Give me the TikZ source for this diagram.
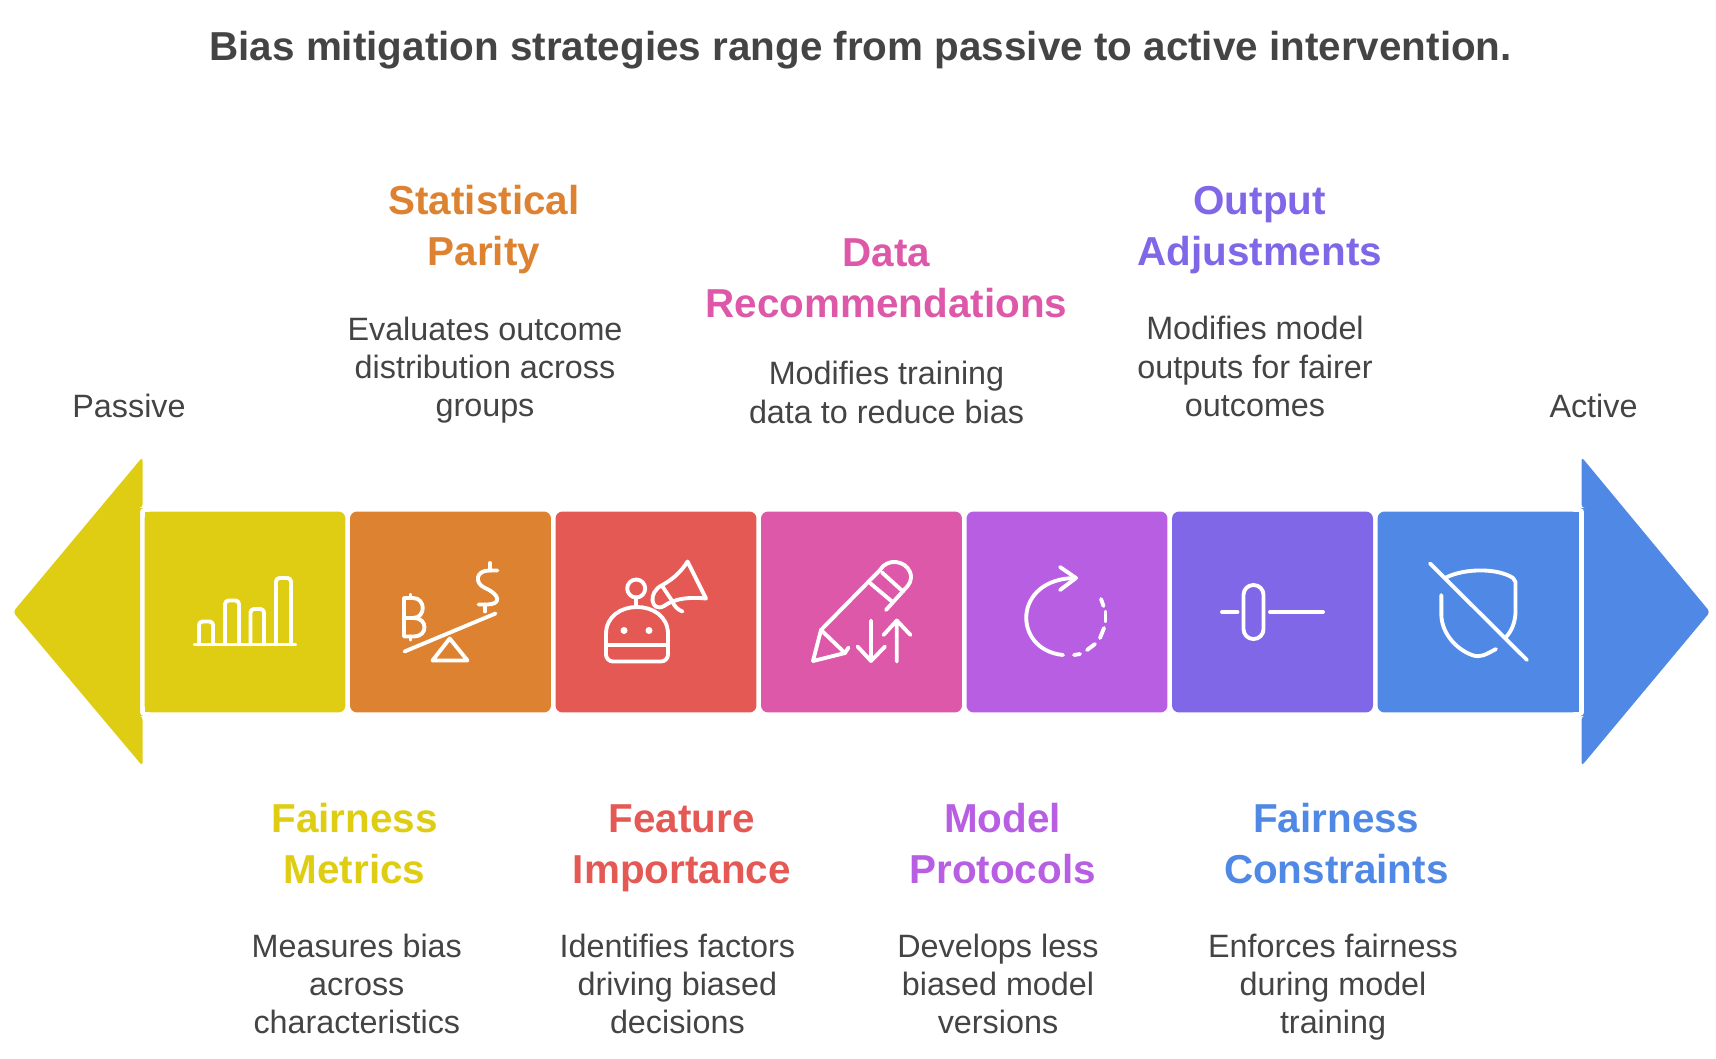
\documentclass[tikz,border=0pt]{standalone}
\usepackage{fontspec}
\setmainfont{Liberation Sans}
\definecolor{cyellow}{HTML}{DFCD14}
\definecolor{corange}{HTML}{DD8230}
\definecolor{cred}{HTML}{E55955}
\definecolor{cpink}{HTML}{DD58A8}
\definecolor{cpurple}{HTML}{B85EE3}
\definecolor{cviolet}{HTML}{8067E7}
\definecolor{cblue}{HTML}{4F89E5}
\definecolor{darktext}{HTML}{444444}
\tikzset{
  stepbox/.style={minimum size=4.02cm, inner sep=0pt, outer sep=0pt, rounded corners=4pt},
  headtext/.style={font=\fontsize{23}{29.1}\selectfont\bfseries, align=center, inner sep=0pt},
  bodytext/.style={font=\fontsize{18.4}{21.8}\selectfont, text=darktext, align=center, inner sep=0pt},
  icon/.style={draw=white, line width=2.2pt, line cap=round, line join=round}
}
\begin{document}
\begin{tikzpicture}[x=0.02cm, y=-0.02cm]
            \useasboundingbox (0,0) rectangle (1716,1058);

            % Title
            \node[font=\fontsize{23}{29}\selectfont\bfseries, text=darktext, inner sep=0pt] (title) at (860.7,50.5) {Bias mitigation strategies range from passive to active intervention.};

            % Arrow heads
            \fill[cyellow, rounded corners=2pt] (142.5,457) -- (13,612) -- (142.5,766) -- (142.5,716) -- (140,716) -- (140,508) -- (142.5,508) -- cycle;
            \fill[cblue, rounded corners=2pt] (1581.5,457) -- (1710,612) -- (1581.5,766) -- (1581.5,716) -- (1584,716) -- (1584,508) -- (1581.5,508) -- cycle;

            % Boxes
            \node[stepbox, fill=cyellow] (box1) at (245,612) {};
            \node[stepbox, fill=corange] (box2) at (450.5,612) {};
            \node[stepbox, fill=cred] (box3) at (656,612) {};
            \node[stepbox, fill=cpink] (box4) at (861.5,612) {};
            \node[stepbox, fill=cpurple] (box5) at (1067,612) {};
            \node[stepbox, fill=cviolet] (box6) at (1272.5,612) {};
            \node[stepbox, fill=cblue] (box7) at (1478,612) {};
            % Square outer corners
            \fill[cyellow] (box1.north west) rectangle ([xshift=10pt]box1.south west);
            \fill[cblue] (box7.north east) rectangle ([xshift=-10pt]box7.south east);

            % Bars
            \draw[icon] (195,644.5) -- (295,644.5);
            \draw[icon, rounded corners=2pt] (199,644.5) |- (213,621.5) -- (213,644.5);
            \draw[icon, rounded corners=2pt] (225,644.5) |- (239,600.5) -- (239,644.5);
            \draw[icon, rounded corners=2pt] (250.5,644.5) |- (264,609) -- (264,644.5);
            \draw[icon, rounded corners=2pt] (276,644.5) |- (291,578) -- (291,644.5);

            % Seesaw
            \draw[icon] (404.5,651.5) -- (495.5,613.5);
            \draw[icon] (449.7,638.5) -- (467.5,660.5) -- (432.5,660.5) -- cycle;
            \draw[icon] (404,598) -- (404,636.5) -- (414,636.5) .. controls (428,636.5) and (428,618) .. (414,618) -- (404,618);
            \draw[icon] (404,598) -- (413,598) .. controls (426,598) and (426,618) .. (413,618);
            \draw[icon] (410.5,595) -- (410.5,598) (410.5,636.5) -- (410.5,639.5);
            \draw[icon] (497.5,570.5) -- (489,570.5) .. controls (476,570.5) and (474,583) .. (485,588) .. controls (501,595) and (501,604.5) .. (487,604.5) -- (478.5,604.5);
            \draw[icon] (490,563) -- (490,570.5) (485,604.5) -- (485,611.5);

            % Robot with megaphone
            \draw[icon, rounded corners=4pt] (606,645) -- (606,661.5) -- (668,661.5) -- (668,645);
            \draw[icon] (606,645) -- (668,645);
            \draw[icon] (606,645) -- (606,634) .. controls (606,598) and (668,598) .. (668,634) -- (668,645);
            \fill[white] (624,630.5) circle (3.5) (649,630.5) circle (3.5);
            \draw[icon] (636.2,588.5) circle (9);
            \draw[icon] (636.2,597.5) -- (636.2,606.5);
            \draw[icon] (687.5,561.5) .. controls (681,572) and (673,579) .. (662.5,585) .. controls (647,592) and (651,613) .. (664,606) .. controls (675,598) and (690,597) .. (706,598.5) -- cycle;
            \draw[icon] (662.5,586.5) -- (672.5,601.5) .. controls (674,606) and (678,610) .. (682.5,611.5);

            % Pencil and arrows
            \draw[icon] (813,661) -- (821,630) -- (880,570) .. controls (887,558) and (905,560) .. (910,572) .. controls (913,580) and (909,585) .. (904,590) -- (886,610);
            \draw[icon] (813,661) -- (845,653) -- (848.5,647.5);
            \draw[icon] (821,630) -- (845,653);
            \draw[icon] (870.5,583.5) -- (892,601.5) (882,572.5) -- (903,591.5);
            \draw[icon] (871,620.5) -- (871,661) (857.5,646.5) -- (871,661) -- (885,646.5);
            \draw[icon] (896.8,661.5) -- (896.8,620.5) (883.5,635) -- (896.8,620.5) -- (910.5,635);

            % Cycle
            \draw[icon] (1063,655) .. controls (1012,650) and (1012,578) .. (1076,578);
            \draw[icon] (1060,567) -- (1076,578) -- (1060,590);
            \draw[icon] (1074,655) -- (1080,654);
            \draw[icon] (1087,650) -- (1095,644);
            \draw[icon] (1100,638) -- (1104,628);
            \draw[icon] (1105.5,612) -- (1105.5,621);
            \draw[icon] (1101,599) -- (1103.5,606);

            % Slider
            \draw[icon] (1222,612) -- (1237.5,612);
            \draw[icon] (1270,612) -- (1323,612);
            \draw[icon, rounded corners=5.6pt] (1243.5,585) rectangle (1263.5,639);

            % Shield
            \draw[icon] (1430,563.5) -- (1527,660);
            \draw[icon] (1446,577.5) .. controls (1465,568) and (1498,568) .. (1513,578) -- (1515.5,582) -- (1515.5,613) .. controls (1515,622) and (1512,631) .. (1505.5,637.5);
            \draw[icon] (1441.3,595) -- (1441.3,615) .. controls (1442,635) and (1458,650) .. (1472,655) .. controls (1480,658) and (1485,655) .. (1496,649);

            % End labels
            \node[bodytext] (passive) at (129,406) {Passive};
            \node[bodytext] (active) at (1593.5,406) {Active};

            % Upper labels
            \node[headtext, text=corange] (statistical) at (484,229.3) {Statistical\\Parity};
            \node[bodytext] (statisticalbody) at (485,370) {Evaluates outcome\\distribution across\\groups};
            \node[headtext, text=cpink] (data) at (886.5,278.4) {Data\\Recommendations};
            \node[bodytext] (databody) at (886.5,392.3) {Modifies training\\data to reduce bias};
            \node[headtext, text=cviolet] (output) at (1259.7,230) {Output\\Adjustments};
            \node[bodytext] (outputbody) at (1255,366.6) {Modifies model\\outputs for fairer\\outcomes};

            % Lower labels
            \node[headtext, text=cyellow] (fairness) at (354.6,843.2) {Fairness\\Metrics};
            \node[bodytext] (fairnessbody) at (356.8,984) {Measures bias\\across\\characteristics};
            \node[headtext, text=cred] (feature) at (681.8,848.7) {Feature\\Importance};
            \node[bodytext] (featurebody) at (677.4,984) {Identifies factors\\driving biased\\decisions};
            \node[headtext, text=cpurple] (model) at (1002.5,843.2) {Model\\Protocols};
            \node[bodytext] (modelbody) at (998,984) {Develops less\\biased model\\versions};
            \node[headtext, text=cblue] (constraints) at (1336.3,843.2) {Fairness\\Constraints};
            \node[bodytext] (constraintsbody) at (1333,987.3) {Enforces fairness\\during model\\training};
\end{tikzpicture}
\end{document}
